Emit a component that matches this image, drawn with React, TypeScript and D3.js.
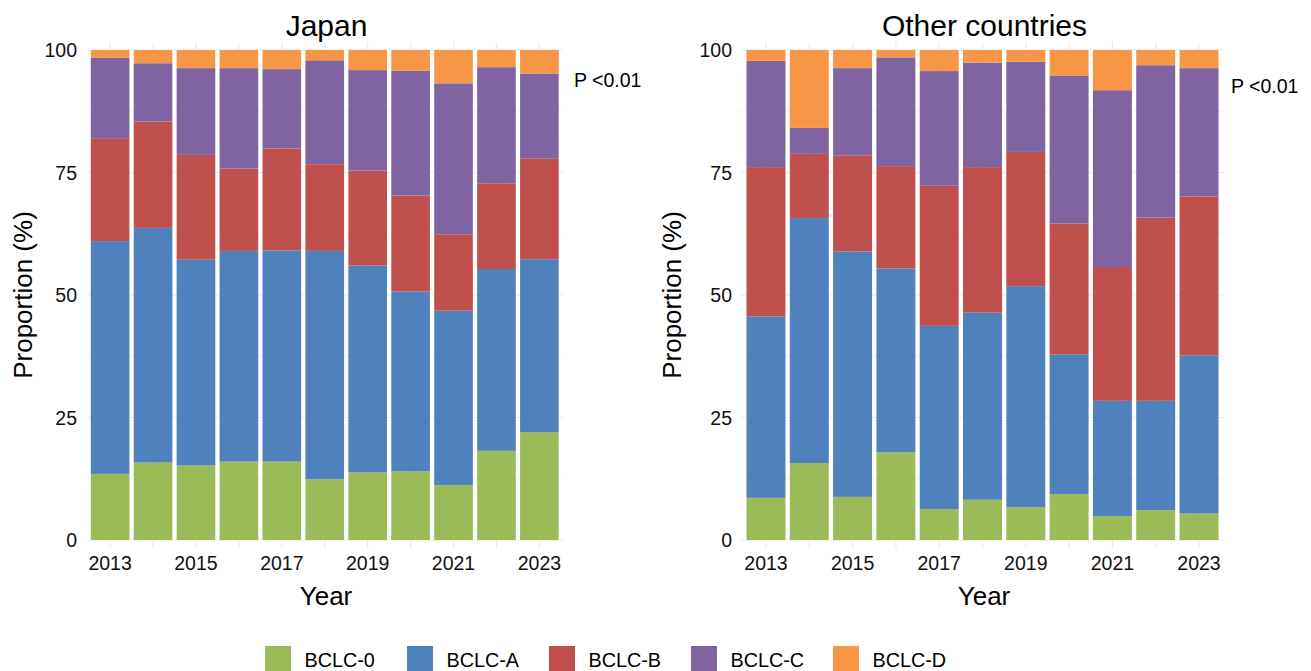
import React from "react";
import * as d3 from "d3";

const years = [2013, 2014, 2015, 2016, 2017, 2018, 2019, 2020, 2021, 2022, 2023];
const stages = ["BCLC-0", "BCLC-A", "BCLC-B", "BCLC-C", "BCLC-D"];
const stageColors = ["#9BBB59", "#4F81BD", "#C0504D", "#8064A2", "#F79646"];
const yTicks = [0, 25, 50, 75, 100];
const xTickYears = [2013, 2015, 2017, 2019, 2021, 2023];

// Japan (%), per stage per year
const japan0 = [13.5, 15.8, 15.2, 16.0, 16.0, 12.4, 13.8, 14.0, 11.2, 18.2, 22.0];
const japanA = [47.5, 47.9, 42.0, 43.0, 43.1, 46.6, 42.2, 36.7, 35.6, 37.1, 35.3];
const japanB = [21.0, 21.7, 21.4, 16.8, 20.8, 17.7, 19.4, 19.6, 15.6, 17.5, 20.5];
const japanC = [16.4, 11.9, 17.7, 20.5, 16.2, 21.2, 20.5, 25.5, 30.8, 23.7, 17.4];
const japanD = [1.6, 2.7, 3.7, 3.7, 3.9, 2.1, 4.1, 4.2, 6.8, 3.5, 4.8];

// Other countries (%), per stage per year
const other0 = [8.6, 15.7, 8.8, 17.9, 6.3, 8.2, 6.7, 9.4, 4.9, 6.1, 5.4];
const otherA = [37.0, 50.0, 50.1, 37.5, 37.4, 38.2, 45.1, 28.5, 23.5, 22.3, 32.3];
const otherB = [30.5, 13.1, 19.6, 20.9, 28.6, 29.7, 27.4, 26.7, 27.3, 37.4, 32.4];
const otherC = [21.7, 5.3, 17.8, 22.2, 23.4, 21.3, 18.4, 30.2, 36.1, 31.1, 26.2];
const otherD = [2.2, 15.9, 3.7, 1.5, 4.3, 2.6, 2.4, 5.2, 8.2, 3.1, 3.7];

const panels = [
  {
    title: "Japan",
    series: [japan0, japanA, japanB, japanC, japanD],
    xRange: [86.5, 563],
    xDomain: [2012.45, 2023.55],
    pText: "P <0.01",
    pX: 574,
    pY: 87,
    yLabelX: 77,
    yTitleX: 31.5,
    titleX: 326.5,
  },
  {
    title: "Other countries",
    series: [other0, otherA, otherB, otherC, otherD],
    xRange: [740, 1225],
    xDomain: [2012.4, 2023.6],
    pText: "P <0.01",
    pX: 1231,
    pY: 93,
    yLabelX: 732,
    yTitleX: 680.5,
    titleX: 984.5,
  },
];

const FONT = "Liberation Sans, Arial, Helvetica, sans-serif";

function Panel({ p }: { p: any }) {
  const x = d3.scaleLinear().domain(p.xDomain).range(p.xRange);
  const y = d3.scaleLinear().domain([0, 100]).range([540, 50]);
  const rows = years.map((yr, i) => {
    const r: any = { year: yr };
    stages.forEach((s, k) => (r[s] = p.series[k][i]));
    return r;
  });
  const stacked = d3.stack().keys(stages)(rows);
  const barW = x(2013.9) - x(2013);
  const top = y(100) - 8;
  const bottom = y(0) + 8;
  const minorY = [12.5, 37.5, 62.5, 87.5];
  const [x0, x1] = p.xRange;
  return (
    <g>
      {minorY.map((v) => (
        <line key={"mn" + v} x1={x0} x2={x1} y1={y(v)} y2={y(v)} stroke="#f3f3f3" strokeWidth={1} />
      ))}
      {yTicks.map((v) => (
        <line key={"mj" + v} x1={x0} x2={x1} y1={y(v)} y2={y(v)} stroke="#ebebeb" strokeWidth={1.2} />
      ))}
      {years.map((yr) => (
        <line key={"vx" + yr} x1={x(yr)} x2={x(yr)} y1={top} y2={bottom} stroke="#ebebeb" strokeWidth={1.2} />
      ))}
      {stacked.map((layer, k) => (
        <g key={stages[k]} fill={stageColors[k]}>
          {layer.map((d: any, i: number) => (
            <rect
              key={i}
              x={x(years[i]) - barW / 2}
              width={barW}
              y={y(d[1])}
              height={Math.max(0, y(d[0]) - y(d[1]))}
            />
          ))}
        </g>
      ))}
      {yTicks.map((v) => (
        <text key={"yt" + v} x={p.yLabelX} y={y(v) + 7} textAnchor="end" fontSize={19.5} fill="#111">
          {v}
        </text>
      ))}
      {xTickYears.map((yr) => (
        <text key={"xt" + yr} x={x(yr)} y={569.5} textAnchor="middle" fontSize={19.5} fill="#111">
          {yr}
        </text>
      ))}
      <text x={p.titleX} y={35.5} textAnchor="middle" fontSize={30} fill="#000">
        {p.title}
      </text>
      <text x={p.titleX - 0.5} y={605.3} textAnchor="middle" fontSize={26} fill="#000">
        Year
      </text>
      <text
        transform={`translate(${p.yTitleX},${y(50)}) rotate(-90)`}
        textAnchor="middle"
        fontSize={26}
        fill="#000"
      >
        Proportion (%)
      </text>
      <text x={p.pX} y={p.pY} fontSize={19.5} fill="#000">
        {p.pText}
      </text>
    </g>
  );
}

export default function App() {
  return (
    <svg
      width={1311}
      height={671}
      style={{ position: "absolute", left: 0, top: 0, display: "block", background: "#fff" }}
      fontFamily={FONT}
    >
      <rect x={0} y={0} width={1311} height={671} fill="#fff" />
      {panels.map((p) => (
        <Panel key={p.title} p={p} />
      ))}
      {stages.map((s, i) => (
        <g key={s} transform={`translate(${265 + i * 142},646)`}>
          <rect x={0} y={0} width={26} height={26} fill={stageColors[i]} />
          <text x={39.5} y={20.7} fontSize={19.8} fill="#000">
            {s}
          </text>
        </g>
      ))}
    </svg>
  );
}
